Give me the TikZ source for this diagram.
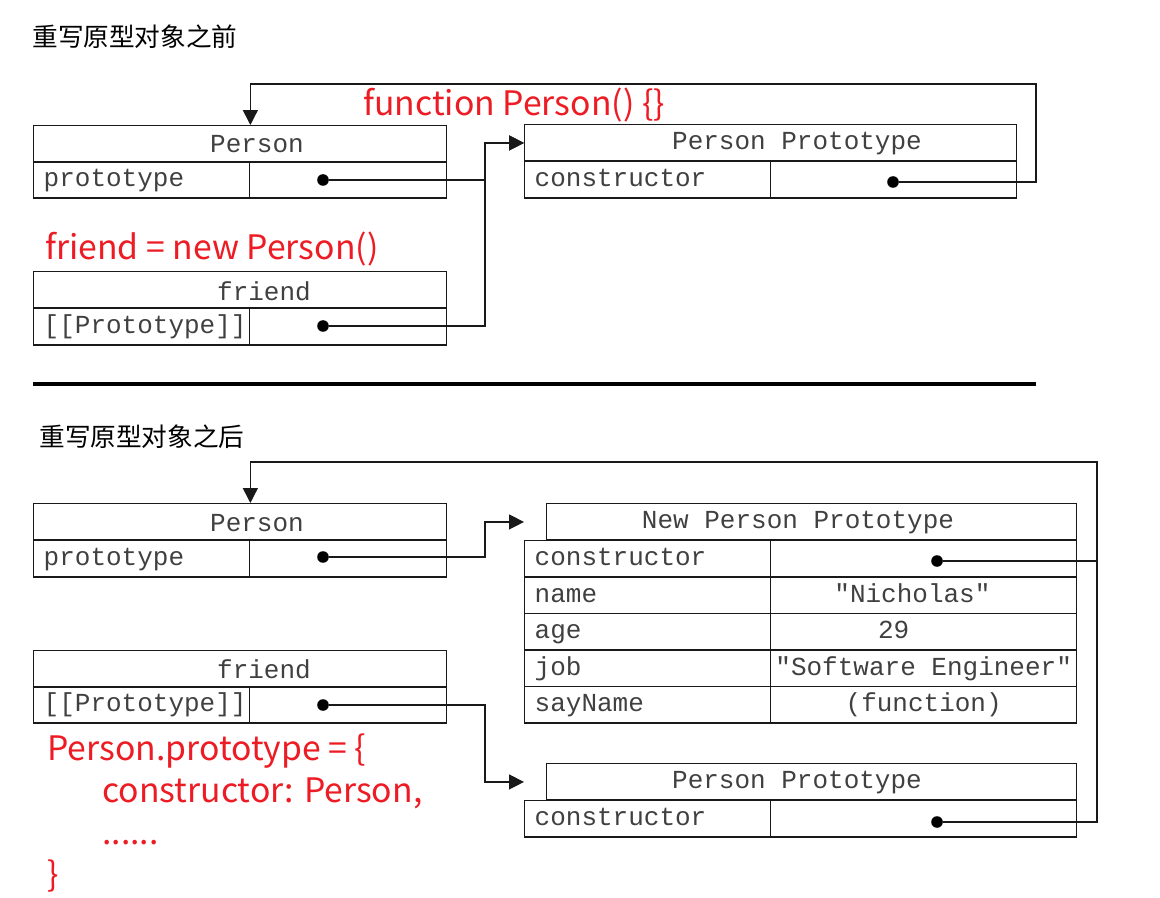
\documentclass[tikz,border=0pt]{standalone}
\usepackage{fontspec}
\usepackage{tikz}
\usetikzlibrary{arrows.meta}
\newfontfamily\mono{Liberation Mono}
\newfontfamily\cjk{Noto Sans CJK SC}
\definecolor{annot}{RGB}{237,28,36}
\tikzset{
cell/.style={draw=black!90, line width=0.8pt, rectangle, inner sep=0pt, anchor=north west, minimum height=0.73cm},
keycell/.style={cell, inner xsep=0.2cm, align=left, font={\mono\fontsize{14.8}{17}\selectfont}, text=black!75, text height=10pt, text depth=2.5pt},
valcell/.style={cell, font={\mono\fontsize{14.8}{17}\selectfont}, text=black!75, text height=10pt, text depth=2.5pt},
headtext/.style={inner sep=0pt, font={\mono\fontsize{14.8}{17}\selectfont}, text=black!75},
dot/.style={circle, fill=black, inner sep=0pt, minimum size=6.6pt},
link/.style={line width=0.8pt, draw=black!90},
arr/.style={link, -{Triangle[length=8.5pt,width=8.5pt]}},
note/.style={inner sep=0pt, anchor=base west, text=annot, font={\cjk\fontsize{19.2}{23}\selectfont}},
title/.style={inner sep=0pt, anchor=west, font={\cjk\fontsize{14.6}{18}\selectfont}}
}
\begin{document}
\begin{tikzpicture}[x=0.02cm, y=-0.02cm]
\useasboundingbox (0,0) rectangle (1160,898);

% before the prototype is rewritten
\node[title] (titleA) at (32,37) {重写原型对象之前};

\node[cell, minimum width=8.26cm] (perAh) at (33,125) {};
\node[headtext] (perAt) at (257,144) {Person};
\node[keycell, text width=3.92cm] (perAk) at (33,161) {prototype};
\node[valcell, minimum width=3.94cm] (perAv) at (249,161) {};
\node[dot] (perAd) at (323,180) {};

\node[cell, minimum width=9.84cm] (ppAh) at (524,124) {};
\node[headtext] (ppAt) at (797,144) {Person Prototype};
\node[keycell, text width=4.52cm] (ppAk) at (524,161) {constructor};
\node[valcell, minimum width=4.92cm] (ppAv) at (770,161) {};
\node[dot] (ppAd) at (893,182) {};

\node[cell, minimum width=8.26cm] (frAh) at (33,271) {};
\node[headtext] (frAt) at (264,291) {friend};
\node[keycell, text width=3.92cm] (frAk) at (33,308) {[[Prototype]]};
\node[valcell, minimum width=3.94cm] (frAv) at (249,308) {};
\node[dot] (frAd) at (323,326) {};

\node[note] (fnA) at (363,116) {function Person() \{\}};
\node[note] (newA) at (45,260) {friend = new Person()};

\coordinate (busA) at (485,0);
\coordinate (railA) at (1036,84);
\draw[arr] (perAd) -- (perAd -| busA) |- (ppAh.west);
\draw[arr] (frAd) -- (frAd -| busA) |- (ppAh.west);
\draw[arr] (ppAd) -| (railA) -| (perAk.north east |- perAh.north);

\draw[line width=1.9pt] (33,384) -- (1036,384);

% after the prototype is rewritten
\node[title] (titleB) at (39,437) {重写原型对象之后};

\node[cell, minimum width=8.26cm] (perBh) at (33,503) {};
\node[headtext] (perBt) at (257,523) {Person};
\node[keycell, text width=3.92cm] (perBk) at (33,540) {prototype};
\node[valcell, minimum width=3.94cm] (perBv) at (249,540) {};
\node[dot] (perBd) at (323,557) {};

\node[cell, minimum width=10.6cm] (npH) at (546,503) {};
\node[headtext] (npT) at (798,523) {New Person Prototype};
\node[keycell, text width=4.52cm] (npK1) at (524,540) {constructor};
\node[valcell, minimum width=6.12cm] (npV1) at (770,540) {};
\node[keycell, text width=4.52cm] (npK2) at (524,576.5) {name};
\node[valcell, minimum width=6.12cm] (npV2) at (770,576.5) {"Nicholas"\hspace*{0.45cm}};
\node[keycell, text width=4.52cm] (npK3) at (524,613) {age};
\node[valcell, minimum width=6.12cm] (npV3) at (770,613) {29\hspace*{1.2cm}};
\node[keycell, text width=4.52cm] (npK4) at (524,649.5) {job};
\node[valcell, minimum width=6.12cm] (npV4) at (770,649.5) {"Software Engineer"};
\node[keycell, text width=4.52cm] (npK5) at (524,686) {sayName};
\node[valcell, minimum width=6.12cm] (npV5) at (770,686) {(function)};
\node[dot] (npD) at (937,561) {};

\node[cell, minimum width=8.26cm] (frBh) at (33,650) {};
\node[headtext] (frBt) at (264,669) {friend};
\node[keycell, text width=3.92cm] (frBk) at (33,686) {[[Prototype]]};
\node[valcell, minimum width=3.94cm] (frBv) at (249,686) {};
\node[dot] (frBd) at (323,705) {};

\node[cell, minimum width=10.6cm] (ppBh) at (546,763) {};
\node[headtext] (ppBt) at (797,783) {Person Prototype};
\node[keycell, text width=4.52cm] (ppBk) at (524,800) {constructor};
\node[valcell, minimum width=6.12cm] (ppBv) at (770,800) {};
\node[dot] (ppBd) at (937,822) {};

\node[note] (litB1) at (47,760) {Person.prototype = \{};
\node[note] (litB2) at (102,802) {constructor: Person,};
\node[note] (litB3) at (102,844) {......};
\node[note] (litB4) at (47,886) {\}};

\coordinate (busB) at (485,0);
\coordinate (railB) at (1097,462);
\draw[arr] (perBd) -- (perBd -| busB) |- (npH.west -| npK1.west);
\draw[arr] (frBd) -- (frBd -| busB) |- (ppBh.west -| ppBk.west);
\draw[link] (npD) -- (npD -| railB);
\draw[arr] (ppBd) -| (railB) -| (perBk.north east |- perBh.north);
\end{tikzpicture}
\end{document}
